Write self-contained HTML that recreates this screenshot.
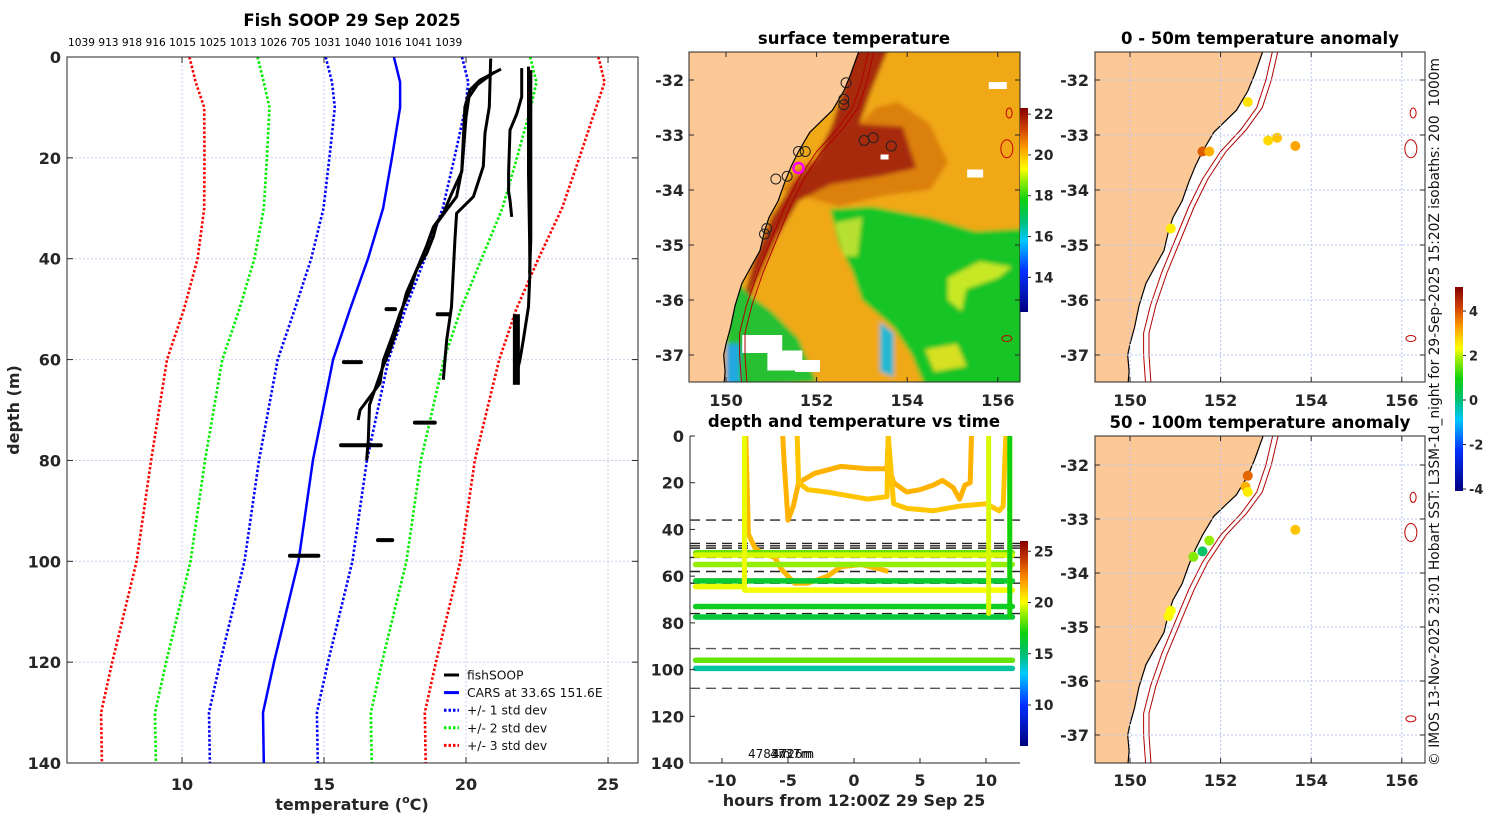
<!DOCTYPE html>
<html><head><meta charset="utf-8">
<style>
html,body{margin:0;padding:0;background:#fff;overflow:hidden;}
svg{display:block;font-family:"DejaVu Sans","Liberation Sans",sans-serif;}
.tk{font-size:16px;font-weight:bold;fill:#262626;}
.tt{font-size:16.5px;font-weight:bold;fill:#000;}
</style></head>
<body>
<svg id="fig" width="1500" height="820" viewBox="0 0 1500 820" xmlns="http://www.w3.org/2000/svg">
<defs>
<linearGradient id="jet" x1="0" y1="1" x2="0" y2="0">
<stop offset="0" stop-color="#00007f"/><stop offset="0.2" stop-color="#0030ff"/><stop offset="0.35" stop-color="#00c8ff"/><stop offset="0.45" stop-color="#00c070"/><stop offset="0.55" stop-color="#10d010"/><stop offset="0.65" stop-color="#a0f000"/><stop offset="0.7" stop-color="#ffff00"/><stop offset="0.8" stop-color="#ffa000"/><stop offset="0.9" stop-color="#d04000"/><stop offset="1" stop-color="#800000"/>
</linearGradient>
<clipPath id="cpL"><rect x="67" y="57" width="571" height="706"/></clipPath>
<clipPath id="cpM"><rect x="689" y="52" width="331" height="330"/></clipPath>
<clipPath id="cpR1"><rect x="1095" y="52" width="330" height="330"/></clipPath>
<clipPath id="cpR2"><rect x="1095" y="436" width="330" height="327"/></clipPath>
<clipPath id="cpT"><rect x="690" y="436" width="330" height="327"/></clipPath>
<filter id="blur"><feGaussianBlur stdDeviation="2"/></filter>
</defs>
</svg>
<script>
// ---------- DATA ----------
const profileTopLabels=["1039","913","918","916","1015","1025","1013","1026","705","1031","1040","1016","1041","1039"];
const carsDepth=[0,5,10,20,30,40,50,60,80,100,120,130,140];
const carsMean=[17.46,17.68,17.68,17.39,17.08,16.55,15.92,15.32,14.61,14.1,13.24,12.85,12.88];
const carsStd=[2.4,2.4,2.3,2.2,2.1,2.0,1.95,1.95,1.9,1.9,1.9,1.9,1.9];
const fsP1T=[20.87,20.82,20.67,20.61,20.26,19.67,19.61,19.49,19.32,19.2];
const fsP1D=[0.3,9.9,15.1,21.7,27.7,31,36.3,49.5,56.1,64];
const fsP2T=[21.23,20.49,20.14,19.96,19.85,19.67,19.32,18.97,18.85,18.62,18.26,18.03,17.68,17.44,17.09,16.97,16.27,16.2];
const fsP2D=[2.4,4.6,6.5,9.9,22.4,27.7,30.3,33,35.6,38.9,42.2,46.2,50.8,54.8,60.1,64.7,70,72];
const fsP3T=[21.0,20.4,20.1,20.0,19.85,19.5,19.2,18.85,18.6,18.26,17.9,17.57,17.33,17.04,16.6,16.56,16.5];
const fsP3D=[3,5.5,8,12,22.7,27,31,33.7,37.6,42.2,46.8,54,58,61.9,69,76,80];
const fsP4T=[21.96,21.96,21.79,21.55,21.5,21.5,21.55,21.61];
const fsP4D=[2.2,7.9,11.2,14.5,23,26.7,28.4,31.7];
const fsP5T=[22.2,22.2,22.24,22.25,22.2,22.02,21.9,21.73];
const fsP5D=[1.9,23,36.3,42.9,49.5,56,60,64];
const fsP6T=[22.28,22.28,22.24];
const fsP6D=[2.6,36.3,43];
const blobT1=[13.8,15.6,16.9,15.7,19.0,18.2,17.2];
const blobT2=[14.8,17.0,17.4,16.3,19.4,18.9,17.5];
const blobD=[98.9,77,95.8,60.5,51,72.5,50];
// time plot
const tDashDepths=[36,46,47,48,52,58,63,76,91,108];
const trkLevelDepth=[50,51,55,62,64.5,66,73,77.5,96,99.5];
const trkLevelTemp=[18.2,19.6,18.8,16.3,19.8,19.9,16.6,16.1,18.2,14.3];
const trkLevelStart=[-12,-12,-12,-12,-12,-8.2,-12,-12,-12,-12];
const trkLevelEnd=[12,12,12,12,-8.3,12,12,12,12,12];
const trkAh=[-8.2,-8.0,-7.5,-7,-6,-5.5,-5,-4.5,-3.5,-2,-1,0.5,2,2.6];
const trkAd=[0,42,48,50,52,57,60,63,63,60,56,55,57,58];
const trkBh=[-5.4,-5.3,-5.0,-4.6,-4.2,-3,-1,1,2.5,2.6,2.7,3,4,5,6,6.7,7.5,8,8.4,8.8,8.9];
const trkBd=[0,10,36,30,20,16,13,14,14,0,14,20,24,23,21,19,22,27,21,20,0];
const trkCh=[-4.3,-4.2,-3.5,-2,0,1,2.5,2.6,3,4,6,8,10,11,11.3,11.5];
const trkCd=[0,20,23,24,26,27,26,0,29,31,32,30,29,32,30,0];
const trkAT=21.5, trkBT=21.6, trkCT=21.2;
const vertH=[-8.3,10.2,11.8,11.8];
const vertD0=[0,0,0,0];
const vertD1=[66,76,66,77];
const vertT=[19.8,19.6,19.6,17.0];
// anomaly points
const an1Lon=[152.6,151.6,151.75,153.05,153.25,153.65,150.9];
const an1Lat=[-32.4,-33.3,-33.3,-33.1,-33.05,-33.2,-34.7];
const an1Val=[2.6,3.9,3.1,2.7,2.9,3.2,2.5];
const an2Lon=[152.6,152.55,152.6,153.65,151.75,151.6,151.4,150.9,150.85];
const an2Lat=[-32.2,-32.4,-32.5,-33.2,-33.4,-33.6,-33.7,-34.7,-34.8];
const an2Val=[3.8,3.1,2.5,2.9,1.8,0.1,1.7,2.3,2.4];
const sstLon=[152.65,152.6,152.6,151.6,151.75,151.35,151.1,153.05,153.25,153.65,150.9,150.85];
const sstLat=[-32.05,-32.35,-32.45,-33.3,-33.3,-33.75,-33.8,-33.1,-33.05,-33.2,-34.7,-34.8];
// ---------- HELPERS ----------
const NS="http://www.w3.org/2000/svg";
const svg=document.getElementById('fig');
function mk(tag,at,parent){const e=document.createElementNS(NS,tag);for(const k in at)e.setAttribute(k,at[k]);(parent||svg).appendChild(e);return e;}
function txt(x,y,s,cls,anchor,parent){const e=mk('text',{x:x,y:y,'class':cls||'tk','text-anchor':anchor||'middle'},parent);e.textContent=s;return e;}
const stops=[[0,[0,0,127]],[0.2,[0,48,255]],[0.35,[0,200,255]],[0.45,[0,192,112]],[0.55,[16,208,16]],[0.65,[160,240,0]],[0.7,[255,255,0]],[0.8,[255,160,0]],[0.9,[208,64,0]],[1,[128,0,0]]];
function cmap(f){f=Math.max(0,Math.min(1,f));for(let i=1;i<stops.length;i++){if(f<=stops[i][0]){const a=stops[i-1],b=stops[i];const t=(f-a[0])/(b[0]-a[0]);const c=a[1].map((v,j)=>Math.round(v+(b[1][j]-v)*t));return `rgb(${c[0]},${c[1]},${c[2]})`;}}return 'rgb(128,0,0)';}
const tx=T=>67+(T-5.95)*28.4, ty=d=>57+d*5.043;
const mx=l=>726+(l-150)*45.3, my=a=>80+(-32-a)*55;
const rx=l=>1130+(l-150)*45.3, ry1=a=>80+(-32-a)*55, ry2=a=>465+(-32-a)*54;
const hx=h=>854+h*13.2, hy=d=>436+d*2.336;
function pts(xs,ys,fx,fy){return xs.map((v,i)=>fx(v).toFixed(1)+','+fy(ys[i]).toFixed(1)).join(' ');}

// ============ LEFT PANEL ============
const gL=mk('g',{});


let t=txt(352,26,'Fish SOOP 29 Sep 2025','tt','middle',gL);

t=mk('text',{x:68,y:46,'font-size':'10.6','fill':'#000'},gL);t.textContent=profileTopLabels.join(' ');

[10,15,20,25].forEach(v=>{const l=mk('line',{x1:tx(v),x2:tx(v),y1:57,y2:763,stroke:'#c8d0ec','stroke-width':1,'stroke-dasharray':'2 2'},gL);
});
[20,40,60,80,100,120].forEach(v=>{const l=mk('line',{x1:67,x2:638,y1:ty(v),y2:ty(v),stroke:'#c8d0ec','stroke-width':1,'stroke-dasharray':'2 2'},gL);
});
const gLc=mk('g',{'clip-path':'url(#cpL)'},gL);
const sdCol=['#0000ff','#00ee00','#ff0000'];
[1,2,3].forEach(k=>{[-1,1].forEach(s=>{const l=mk('polyline',{points:carsDepth.map((d,i)=>tx(carsMean[i]+s*k*carsStd[i]).toFixed(1)+','+ty(d).toFixed(1)).join(' '),fill:'none',stroke:sdCol[k-1],'stroke-width':2.6,'stroke-dasharray':'2.5 2'},gLc);
});});
t=mk('polyline',{points:pts(carsMean,carsDepth,tx,ty),fill:'none',stroke:'#0000ff','stroke-width':2.5},gLc);

[[fsP1T,fsP1D],[fsP2T,fsP2D],[fsP3T,fsP3D],[fsP4T,fsP4D],[fsP5T,fsP5D],[fsP6T,fsP6D]].forEach((p,i)=>{
const l=mk('polyline',{points:pts(p[0],p[1],tx,ty),fill:'none',stroke:'#000','stroke-width':3,'stroke-linejoin':'round'},gLc);
});
blobD.forEach((d,i)=>{const l=mk('line',{x1:tx(blobT1[i]),x2:tx(blobT2[i]),y1:ty(d),y2:ty(d),stroke:'#000','stroke-width':4,'stroke-linecap':'round'},gLc);
});
t=mk('rect',{x:tx(21.65),y:ty(51),width:7,height:ty(65)-ty(51),fill:'#000'},gLc);

t=mk('rect',{x:67,y:57,width:571,height:706,fill:'none',stroke:'#262626','stroke-width':1},gL);

[10,15,20,25].forEach(v=>{mk('line',{x1:tx(v),x2:tx(v),y1:763,y2:757,stroke:'#262626'},gL);mk('line',{x1:tx(v),x2:tx(v),y1:57,y2:63,stroke:'#262626'},gL);
const e=txt(tx(v),790,String(v),'tk','middle',gL);});
[0,20,40,60,80,100,120,140].forEach(v=>{mk('line',{x1:67,x2:73,y1:ty(v),y2:ty(v),stroke:'#262626'},gL);mk('line',{x1:638,x2:632,y1:ty(v),y2:ty(v),stroke:'#262626'},gL);
const e=txt(61,ty(v)+6,String(v),'tk','end',gL);});
t=mk('text',{x:352,y:810,'class':'tk','text-anchor':'middle'},gL);t.innerHTML='temperature (<tspan dy="-7" style="font-size:11px">o</tspan><tspan dy="7">C)</tspan>';

t=txt(0,0,'depth (m)','tk','middle',gL);t.setAttribute('transform','translate(19,410) rotate(-90)');

const leg=[['fishSOOP','#000',null],['CARS at 33.6S 151.6E','#0000ff',null],['+/- 1 std dev','#0000ff','2.5 2'],['+/- 2 std dev','#00ee00','2.5 2'],['+/- 3 std dev','#ff0000','2.5 2']];
const gLeg=mk('g',{},gL);
leg.forEach((e,i)=>{const y=675+i*17.6;const g=mk('g',{},gLeg);
const a={x1:444,x2:459,y1:y,y2:y,stroke:e[1],'stroke-width':3};if(e[2])a['stroke-dasharray']=e[2];mk('line',a,g);
const tt=mk('text',{x:467,y:y+4.5,'font-size':'12.3',fill:'#111'},g);tt.textContent=e[0];});

// ============ SST MAP ============
const coastLon=[152.94,152.75,152.6,152.35,152.1,151.85,151.6,151.45,151.3,151.15,150.95,150.85,150.75,150.55,150.35,150.2,150.1,150.0,149.95,149.98,149.95];
const coastLat=[-31.46,-31.9,-32.2,-32.55,-32.75,-32.95,-33.3,-33.55,-33.85,-34.2,-34.5,-34.75,-35.1,-35.4,-35.7,-36.1,-36.5,-36.8,-37.0,-37.3,-37.6];
const iso200Lon=[153.15,153.0,152.8,152.45,152.0,151.6,151.3,151.0,150.7,150.45,150.3,150.3,150.35];
const iso200Lat=[-31.46,-32.0,-32.5,-32.9,-33.3,-33.8,-34.3,-34.9,-35.5,-36.1,-36.6,-37.0,-37.6];
function drawLand(g,fx,fy,x0,y0,y1){const p=coastLon.map((l,i)=>fx(l).toFixed(1)+','+fy(coastLat[i]).toFixed(1)).join(' ');
const land=mk('polygon',{points:`${x0},${y0-10} ${p} ${x0},${y1+20}`,fill:'#fbc896',stroke:'none'},g);
const c=mk('polyline',{points:p,fill:'none',stroke:'#000','stroke-width':1.2},g);}
function drawIso(g,fx,fy){[0,0.12].forEach((o,k)=>{const l=mk('polyline',{points:iso200Lon.map((v,i)=>fx(v+o).toFixed(1)+','+fy(iso200Lat[i]).toFixed(1)).join(' '),fill:'none',stroke:'#b00000','stroke-width':1},g);
});
[[156.2,-33.25,6,9],[156.25,-32.6,3,5],[156.2,-36.7,5,3]].forEach(s=>{const e=mk('ellipse',{cx:fx(s[0]),cy:fy(s[1]),rx:s[2],ry:s[3],fill:'none',stroke:'#c00000','stroke-width':1},g);
});}
function poly(g,arr,fill,fx,fy,name){const e=mk('polygon',{points:arr.map(p=>fx(p[0]).toFixed(1)+','+fy(p[1]).toFixed(1)).join(' '),fill:fill},g);return e;}
const gM=mk('g',{});
t=txt(854,44,'surface temperature','tt','middle',gM);
const gMc=mk('g',{'clip-path':'url(#cpM)'},gM);
const gMb=mk('g',{filter:'url(#blur)'},gMc);
mk('rect',{x:680,y:40,width:350,height:350,fill:'#f0a818'},gMb);
poly(gMb,[[151.2,-34.0],[152.5,-34.3],[153.5,-34.1],[154.5,-34.0],[154.9,-33.5],[154.5,-32.8],[153.8,-32.4],[153.3,-32.5],[152.5,-33.2],[151.6,-33.6]],'#dc8010',mx,my,'sst-warm-zone');
poly(gMb,[[152.75,-31.4],[153.6,-31.4],[153.2,-32.2],[152.95,-32.8],[153.9,-32.85],[154.2,-33.6],[153.4,-33.75],[152.3,-33.9],[151.6,-34.2],[151.1,-34.9],[150.6,-35.8],[150.45,-36.3],[150.32,-36.2],[150.6,-35.3],[151.0,-34.5],[151.5,-33.85],[152.0,-33.4],[152.35,-32.8],[152.6,-32.1]],'#a82a08',mx,my,'sst-east-australian-current');
poly(gMb,[[152.3,-34.35],[153.2,-34.3],[154.5,-34.5],[155.5,-34.75],[156.6,-34.7],[156.6,-37.6],[154.4,-37.6],[154.1,-37.0],[153.7,-36.5],[153.0,-36.0],[152.8,-35.5],[152.5,-35.0]],'#18c428',mx,my,'sst-cool-water');
poly(gMb,[[152.4,-34.6],[153.0,-34.5],[152.9,-35.2],[152.6,-35.2]],'#b8e030',mx,my,'sst-front');
poly(gMb,[[154.9,-35.6],[155.6,-35.3],[156.3,-35.4],[156.0,-35.6],[155.3,-35.8],[155.2,-36.2],[154.9,-36.0]],'#c8e828',mx,my,'sst-front');
poly(gMb,[[154.4,-36.9],[155.1,-36.8],[155.3,-37.2],[154.6,-37.3]],'#d8e020',mx,my,'sst-front');
poly(gMb,[[153.4,-36.4],[153.7,-36.6],[153.7,-37.4],[153.4,-37.3]],'#20b8d0',mx,my,'sst-cool-patch');
poly(gMb,[[150.2,-35.6],[150.5,-35.9],[151.0,-36.2],[151.6,-36.7],[152.0,-37.5],[150.0,-37.6],[150.0,-35.8]],'#28c030',mx,my,'sst-coastal-cool');
poly(gMb,[[150.0,-36.8],[150.3,-36.8],[150.3,-37.6],[150.0,-37.6]],'#20a8e0',mx,my,'sst-coastal-cold');
[[150.8,-36.8,40,18],[151.3,-37.1,35,20],[151.8,-37.2,25,12],[155.5,-33.7,16,8],[156.0,-32.1,18,7],[153.5,-33.4,8,5]].forEach(s=>{const e=mk('rect',{x:mx(s[0])-s[2]/2,y:my(s[1])-s[3]/2,width:s[2],height:s[3],fill:'#ffffff'},gMc);
});
drawLand(gMc,mx,my,680,52,382);
drawIso(gMc,mx,my);
sstLon.forEach((l,i)=>{const c=mk('circle',{cx:mx(l),cy:my(sstLat[i]),r:5,fill:'none',stroke:'#222','stroke-width':1},gMc);});
t=mk('circle',{cx:mx(151.6),cy:my(-33.6),r:5,fill:'none',stroke:'#ff00ff','stroke-width':2.5},gMc);
function mapAxes(g,fx,fy,x0,y0,w,h,labY,latX,grid){
const f=mk('rect',{x:x0,y:y0,width:w,height:h,fill:'none',stroke:'#262626'},g);
[150,152,154,156].forEach(v=>{if(grid)mk('line',{x1:fx(v),x2:fx(v),y1:y0,y2:y0+h,stroke:'#b8c4ee','stroke-dasharray':'2 2'},g);
mk('line',{x1:fx(v),x2:fx(v),y1:y0+h,y2:y0+h-5,stroke:'#262626'},g);mk('line',{x1:fx(v),x2:fx(v),y1:y0,y2:y0+5,stroke:'#262626'},g);
const e=txt(fx(v),labY,String(v),'tk','middle',g);});
[-32,-33,-34,-35,-36,-37].forEach(v=>{if(grid)mk('line',{x1:x0,x2:x0+w,y1:fy(v),y2:fy(v),stroke:'#b8c4ee','stroke-dasharray':'2 2'},g);
mk('line',{x1:x0+w,x2:x0+w-5,y1:fy(v),y2:fy(v),stroke:'#262626'},g);mk('line',{x1:x0,x2:x0+5,y1:fy(v),y2:fy(v),stroke:'#262626'},g);
const e=txt(latX,fy(v)+6,String(v),'tk','end',g);});}
mapAxes(gM,mx,my,689,52,331,330,406,684,false);
t=mk('rect',{x:1020,y:108,width:8,height:204,fill:'url(#jet)'},gM);
[22,20,18,16,14].forEach(v=>{const y=312-(v-12.3)/10*204;mk('line',{x1:1028,x2:1031,y1:y,y2:y,stroke:'#262626'},gM);
const e=txt(1034,y+5,String(v),'tk','start',gM);e.setAttribute('style','font-size:14px');});

// ============ TIME PLOT ============
const gT=mk('g',{});
t=txt(854,427,'depth and temperature vs time','tt','middle',gT);
const gTc=mk('g',{'clip-path':'url(#cpT)'},gT);
const tf=T=>(T-6)/20;
tDashDepths.forEach(d=>{const l=mk('line',{x1:690,x2:1020,y1:hy(d),y2:hy(d),stroke:d>80?'#555':'#222','stroke-width':1.4,'stroke-dasharray':'10 6'},gTc);});
[[trkAh,trkAd,trkAT],[trkBh,trkBd,trkBT],[trkCh,trkCd,trkCT]].forEach((k,i)=>{const l=mk('polyline',{points:pts(k[0],k[1],hx,hy),fill:'none',stroke:cmap(tf(k[2])),'stroke-width':5,'stroke-linejoin':'round'},gTc);
});
trkLevelDepth.forEach((d,i)=>{const l=mk('line',{x1:hx(trkLevelStart[i]),x2:hx(trkLevelEnd[i]),y1:hy(d),y2:hy(d),stroke:cmap(tf(trkLevelTemp[i])),'stroke-width':5.5,'stroke-linecap':'round'},gTc);
});
vertH.forEach((h,i)=>{const l=mk('line',{x1:hx(h),x2:hx(h),y1:hy(vertD0[i]),y2:hy(vertD1[i]),stroke:cmap(tf(vertT[i])),'stroke-width':5,'stroke-linecap':'round'},gTc);
});
['4783m','4737m','4726m'].forEach((s,i)=>{const e=mk('text',{x:[748,770,772][i],y:758,'font-size':'12',fill:'#111'},gT);e.textContent=s;});
mk('line',{x1:690,x2:690,y1:436,y2:763,stroke:'#262626'},gT);mk('line',{x1:690,x2:1020,y1:763,y2:763,stroke:'#262626'},gT);
[-10,-5,0,5,10].forEach(v=>{mk('line',{x1:hx(v),x2:hx(v),y1:763,y2:758,stroke:'#262626'},gT);const e=txt(hx(v),786,String(v),'tk','middle',gT);});
[0,20,40,60,80,100,120,140].forEach(v=>{mk('line',{x1:690,x2:695,y1:hy(v),y2:hy(v),stroke:'#262626'},gT);const e=txt(684,hy(v)+6,String(v),'tk','end',gT);});
t=txt(854,806,'hours from 12:00Z 29 Sep 25','tk','middle',gT);
t=mk('rect',{x:1020,y:541,width:8,height:205,fill:'url(#jet)'},gT);
[25,20,15,10].forEach(v=>{const y=746-tf(v)*205;mk('line',{x1:1028,x2:1031,y1:y,y2:y,stroke:'#262626'},gT);const e=txt(1034,y+5,String(v),'tk','start',gT);e.setAttribute('style','font-size:14px');});

// ============ ANOMALY MAPS ============
const af=v=>(v+4.09)/9.17;
function anomMap(title,ty0,clip,fy,lon,lat,val,name,labY,h){
const g=mk('g',{});
const e=txt(1260,ty0,title,'tt','middle',g);
const gc=mk('g',{'clip-path':'url('+clip+')'},g);
const y0=ty0+8;
mapAxes(g,rx,fy,1095,y0,330,h,labY,1089,true);
drawLand(gc,rx,fy,1085,y0,y0+h);drawIso(gc,rx,fy);
lon.forEach((l,i)=>{const c=mk('circle',{cx:rx(l),cy:fy(lat[i]),r:5,fill:cmap(af(val[i]))},gc);});}
anomMap('0 - 50m temperature anomaly',44,'#cpR1',ry1,an1Lon,an1Lat,an1Val,'anomaly-0-50m-map',406,330);
anomMap('50 - 100m temperature anomaly',428,'#cpR2',ry2,an2Lon,an2Lat,an2Val,'anomaly-50-100m-map',786,327);
t=mk('rect',{x:1455,y:287,width:8,height:204,fill:'url(#jet)'});
[4,2,0,-2,-4].forEach(v=>{const y=491-af(v)*204;mk('line',{x1:1463,x2:1466,y1:y,y2:y,stroke:'#262626'});const e=txt(1469,y+5,String(v),'tk','start');e.setAttribute('style','font-size:13px');});
t=mk('text',{x:0,y:0,'text-anchor':'middle',style:'font-size:13.8px;font-weight:normal;fill:#111;white-space:pre'});
t.textContent='\u00a9 IMOS 13-Nov-2025 23:01 Hobart SST: L3SM-1d_night for 29-Sep-2025 15:20Z isobaths: 200  1000m';
t.setAttribute('transform','translate(1439,412) rotate(-90)');

</script>
</body></html>
